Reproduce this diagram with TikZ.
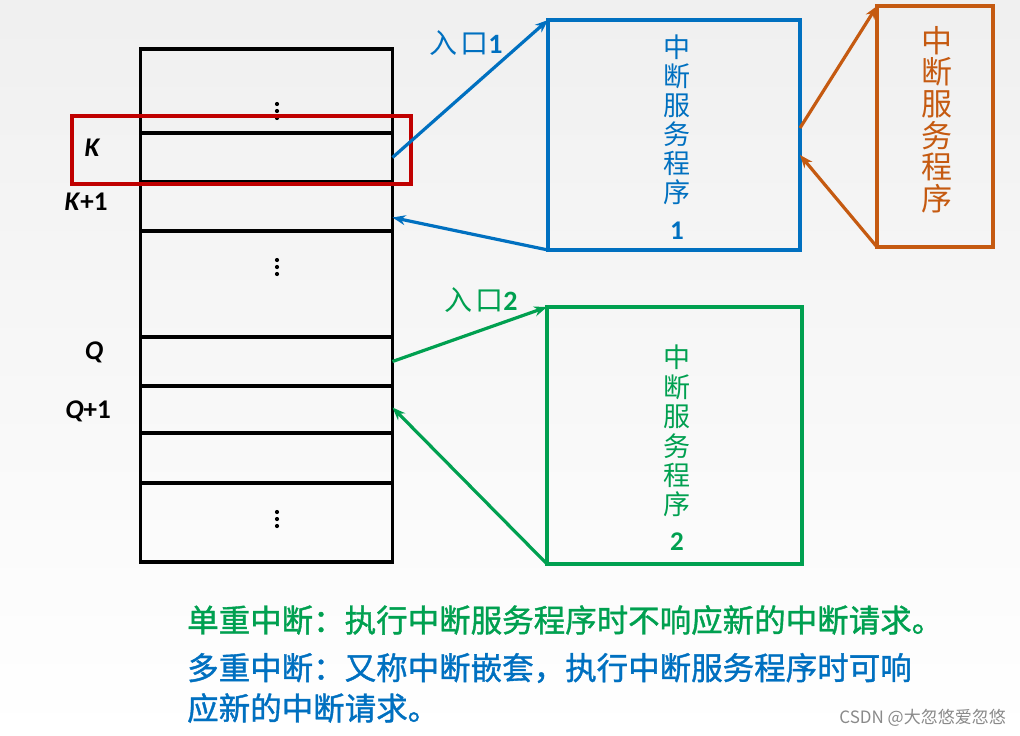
\documentclass[tikz,border=0pt]{standalone}
\usepackage{fontspec}
\setmainfont{Carlito}
\newfontfamily\cjk{Noto Sans CJK SC}
\newfontfamily\cjkb[FakeBold=1.2]{Noto Sans CJK SC}
\usetikzlibrary{arrows.meta,calc}
\definecolor{cblue}{HTML}{0070C0}
\definecolor{cgreen}{HTML}{00A050}
\definecolor{corange}{HTML}{C55A11}
\definecolor{cred}{HTML}{C00000}
\definecolor{cgray}{HTML}{8A8A8A}
\newcommand{\memdots}[2]{%
  \foreach \dy in {0,7,14} {\fill (#1,#2+\dy) circle[radius=2.1pt];}}
\begin{document}
\begin{tikzpicture}[x=1pt,y=-1pt,
  memrow/.style={draw=black,line width=3.2pt,minimum width=252pt,inner sep=0pt,outer sep=0pt},
  progbox/.style={draw=#1,line width=3.5pt,inner sep=0pt,outer sep=0pt},
  boxtext/.style={text=#1,align=center,inner sep=0pt,anchor=north},
  addrlabel/.style={font=\fontsize{27}{30}\selectfont\bfseries,inner sep=0pt},
  conn/.style={draw=#1,line width=3.2pt,-{Stealth[length=13pt,width=10pt]}},
  note/.style={font=\cjkb\fontsize{31.5}{34}\selectfont,anchor=west,inner sep=0pt}]
% background
\shade[top color=black!6,bottom color=white] (0,0) rectangle (1020,736);
\useasboundingbox (0,0) rectangle (1020,736);
% memory rows
\node[memrow,minimum height=84pt] (r1) at (266.5,91) {};
\node[memrow,minimum height=49pt] (r2) at (266.5,157.5) {};
\node[memrow,minimum height=49pt] (r3) at (266.5,206.5) {};
\node[memrow,minimum height=106pt] (r4) at (266.5,284) {};
\node[memrow,minimum height=49pt] (r5) at (266.5,361.5) {};
\node[memrow,minimum height=47pt] (r6) at (266.5,409.5) {};
\node[memrow,minimum height=50pt] (r7) at (266.5,458) {};
\node[memrow,minimum height=79pt] (r8) at (266.5,522.5) {};
\memdots{277}{104}
\memdots{277}{260}
\memdots{277}{512}
% red highlight
\node[draw=cred,line width=3.5pt,minimum width=339pt,minimum height=68pt,inner sep=0pt] (hl) at (241.5,150) {};
% address labels
\node[addrlabel] (lk) at (92,148) {\itshape K};
\node[addrlabel] (lk1) at (86,202) {\textit{K}+1};
\node[addrlabel] (lq) at (94,352) {\itshape Q};
\node[addrlabel] (lq1) at (88,411) {\textit{Q}+1};
% program boxes
\node[progbox=cblue,minimum width=252pt,minimum height=230pt] (b1) at (674,135) {};
\node[progbox=corange,minimum width=116pt,minimum height=241pt] (o) at (935,126.5) {};
\node[progbox=cgreen,minimum width=255pt,minimum height=257pt] (g) at (674.5,435.5) {};
\node[boxtext=cblue,font=\cjk\fontsize{27}{29}\selectfont] (t1) at (677,35)
  {中\\断\\服\\务\\程\\序\\[8pt]\rmfamily\bfseries 1};
\node[boxtext=cgreen,font=\cjk\fontsize{27}{29.4}\selectfont] (t2) at (677,345)
  {中\\断\\服\\务\\程\\序\\[6pt]\rmfamily\bfseries 2};
\node[boxtext=corange,font=\cjk\fontsize{31}{31.6}\selectfont] (t3) at (937,26)
  {中\\断\\服\\务\\程\\序};
% entry labels
\node[text=cblue,font=\fontsize{28}{30}\selectfont,inner sep=0pt] (e1) at (466,43) {{\cjk 入\hspace{3pt}口}\textbf{1}};
\node[text=cgreen,font=\fontsize{28}{30}\selectfont,inner sep=0pt] (e2) at (481,300) {{\cjk 入\hspace{3pt}口}\textbf{2}};
% connectors
\draw[conn=cblue] (r2.east) -- (b1.north west);
\draw[conn=cblue] (b1.south west) -- ($(r3.east)+(0,11)$);
\draw[conn=corange] ($(b1.east)+(0,-7)$) -- (o.north west);
\draw[conn=corange] (o.south west) -- ($(b1.east)+(0,20)$);
\draw[conn=cgreen] (r5.east) -- (g.north west);
\draw[conn=cgreen] (g.south west) -- ($(r6.east)+(0,-2)$);
% notes
\node[note,text=cgreen] (n1) at (187,620) {单重中断：执行中断服务程序时不响应新的中断请求。};
\node[note,text=cblue] (n2) at (187,668) {多重中断：又称中断嵌套，执行中断服务程序时可响};
\node[note,text=cblue] (n3) at (187,708) {应新的中断请求。};
\node[font=\cjk\fontsize{17}{20}\selectfont,text=cgray,anchor=east,inner sep=0pt] (wm) at (1006,718) {CSDN @大忽悠爱忽悠};
\end{tikzpicture}
\end{document}
